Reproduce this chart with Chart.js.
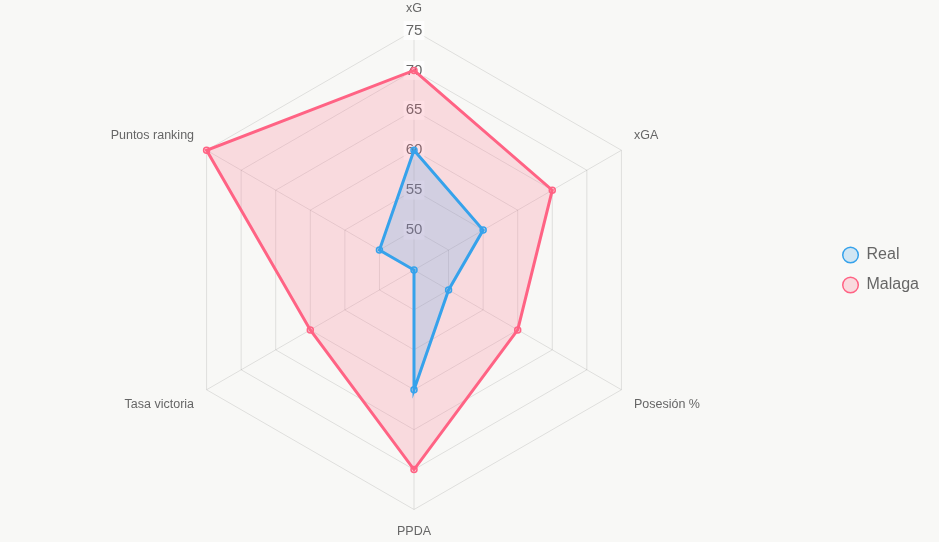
<!DOCTYPE html>
<html>
<head>
<meta charset="utf-8">
<script src="https://cdn.jsdelivr.net/npm/chart.js@4.4.0/dist/chart.umd.min.js"></script>
<style>
  html, body { margin: 0; padding: 0; background: #f8f8f6; }
  #wrap { width: 939px; height: 542px; }
</style>
</head>
<body>
<div id="wrap"><canvas id="radarChart"></canvas></div>
<script>
var labels = ["xG", "xGA", "Posesión %", "PPDA", "Tasa victoria", "Puntos ranking"];
var realValues = [60, 55, 50, 60, 45, 50];
var malagaValues = [70, 65, 60, 70, 60, 75];

Chart.defaults.font.family = "'Liberation Sans', Arial, sans-serif";
Chart.defaults.color = "#666";

var radarChart = new Chart(document.getElementById("radarChart"), {
    type: 'radar',
    data: {
        labels: labels,
        datasets: [{
            label: "Real",
            data: realValues,
            borderColor: "rgb(54, 162, 235)",
            backgroundColor: "rgba(54, 162, 235, 0.2)",
            pointBackgroundColor: "rgba(54, 162, 235, 0.2)",
            pointBorderColor: "rgb(54, 162, 235)",
            borderWidth: 3,
            pointRadius: 3,
            pointBorderWidth: 1.5
        }, {
            label: "Malaga",
            data: malagaValues,
            borderColor: "rgb(255, 99, 132)",
            backgroundColor: "rgba(255, 99, 132, 0.2)",
            pointBackgroundColor: "rgba(255, 99, 132, 0.2)",
            pointBorderColor: "rgb(255, 99, 132)",
            borderWidth: 3,
            pointRadius: 3,
            pointBorderWidth: 1.5
        }]
    },
    options: {
        responsive: true,
        maintainAspectRatio: false,
        animation: false,
        layout: {
            padding: { top: 1, bottom: 3, right: 10 }
        },
        scales: {
            r: {
                min: 45,
                max: 75,
                ticks: {
                    stepSize: 5,
                    font: { size: 15 },
                    color: "#666"
                },
                pointLabels: {
                    font: { size: 12.5 },
                    color: "#666"
                }
            }
        },
        plugins: {
            legend: {
                position: 'right',
                labels: {
                    usePointStyle: true,
                    boxWidth: 16,
                    boxHeight: 11,
                    padding: 14,
                    font: { size: 16 },
                    color: "#666"
                }
            }
        }
    }
});
</script>
</body>
</html>
